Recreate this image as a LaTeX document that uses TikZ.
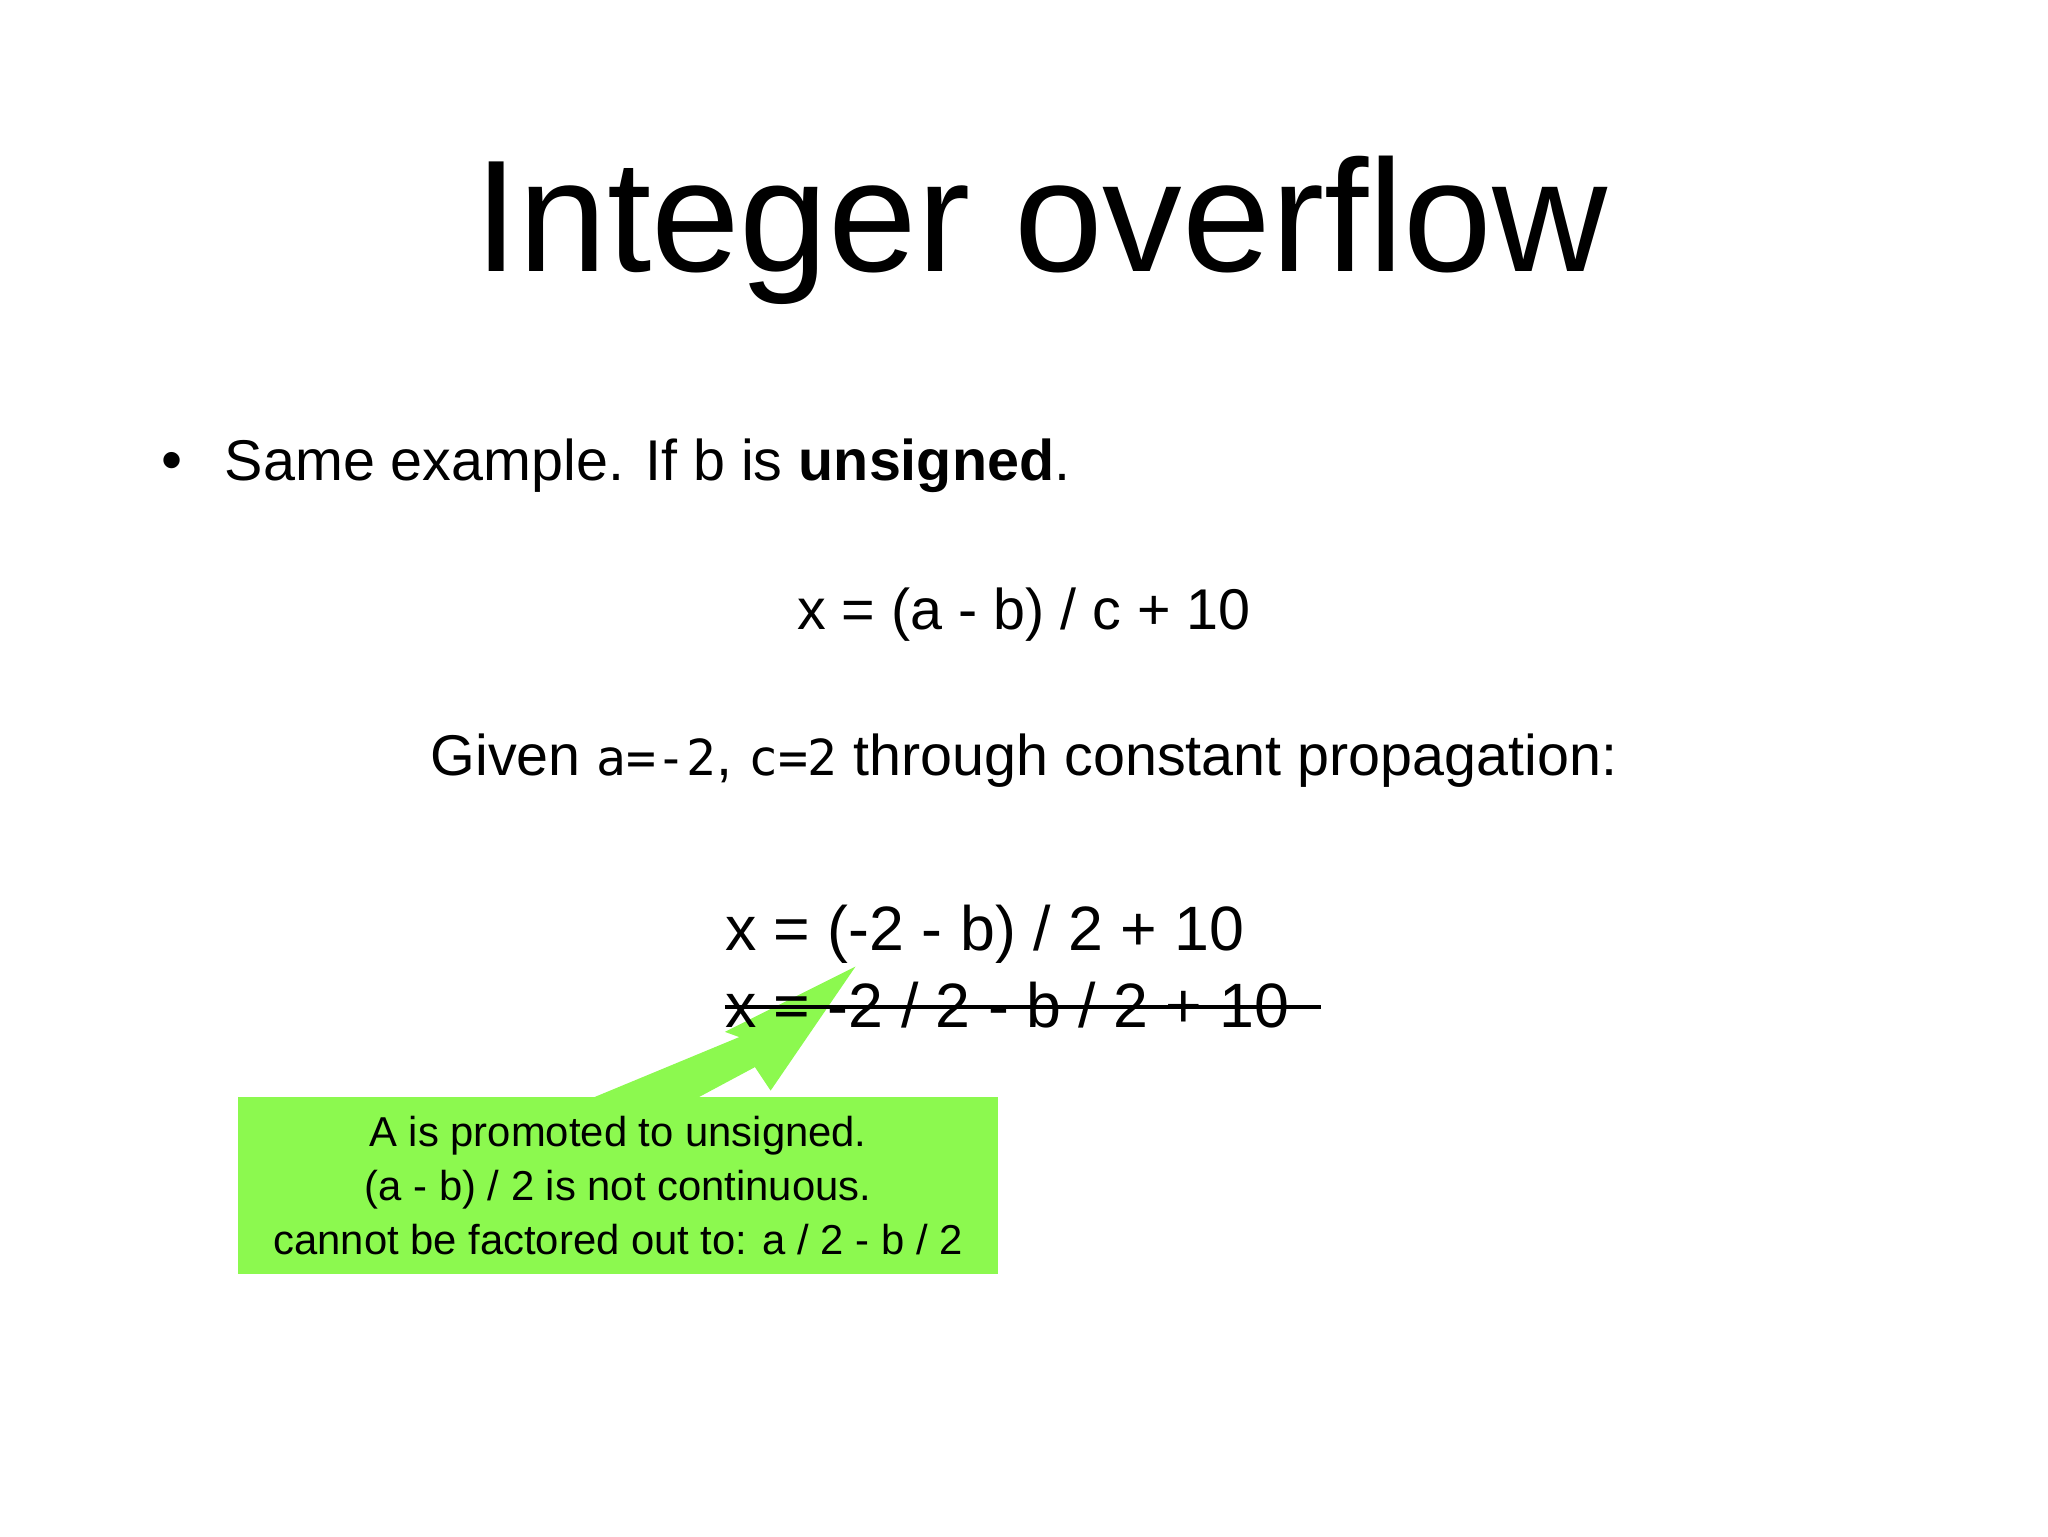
\documentclass[tikz,border=0pt]{standalone}
\usepackage{fontspec}
\setmainfont{Liberation Sans}
\setmonofont{DejaVu Sans Mono}
\definecolor{notegreen}{HTML}{8CF94F}
\tikzset{txt/.style={inner sep=0pt, anchor=base}}
\begin{document}
\begin{tikzpicture}[x=1pt,y=-1pt]
\useasboundingbox (0,0) rectangle (1568,1176);
\node[txt] (title) at (797,208) {\fontsize{122}{130}\selectfont Integer overflow};
\node[txt,anchor=base] (bul) at (132,368) {\fontsize{46}{50}\selectfont •};
\node[txt,anchor=base west] (b1) at (172,368) {\fontsize{44}{50}\selectfont Same example. If b is \textbf{unsigned}.};
\node[txt] (eq1) at (784,482) {\fontsize{44}{50}\selectfont x = (a - b) / c + 10};
\node[txt] (given) at (784,594) {\fontsize{44}{50}\selectfont Given \texttt{\fontsize{38}{44}\selectfont a=-2}, \texttt{\fontsize{38}{44}\selectfont c=2} through constant propagation:};
% green note and arrow
\fill[notegreen] (455,840)--(566,794)--(555,790)--(655,740)--(590,835)--(578,817)--(535,840)--cycle;
\node[fill=notegreen, minimum width=582, minimum height=135, inner sep=0pt, anchor=north west] (note) at (182,840) {};
\node[align=center, inner sep=0pt, font=\fontsize{32}{41.5}\selectfont] (notetext) at (note.center) {A is promoted to unsigned.\\(a - b) / 2 is not continuous.\\cannot be factored out to: a / 2 - b / 2};
\node[txt,anchor=base west] (eq2) at (555,728) {\fontsize{48}{50}\selectfont x = (-2 - b) / 2 + 10};
\node[txt,anchor=base west] (eq3) at (555,787) {\fontsize{48}{50}\selectfont x = -2 / 2 - b / 2 + 10};
\draw[line width=2.5] (eq3.west |- 0,771) coordinate (s1) -- (1011,771) coordinate (s2);
\end{tikzpicture}
\end{document}
